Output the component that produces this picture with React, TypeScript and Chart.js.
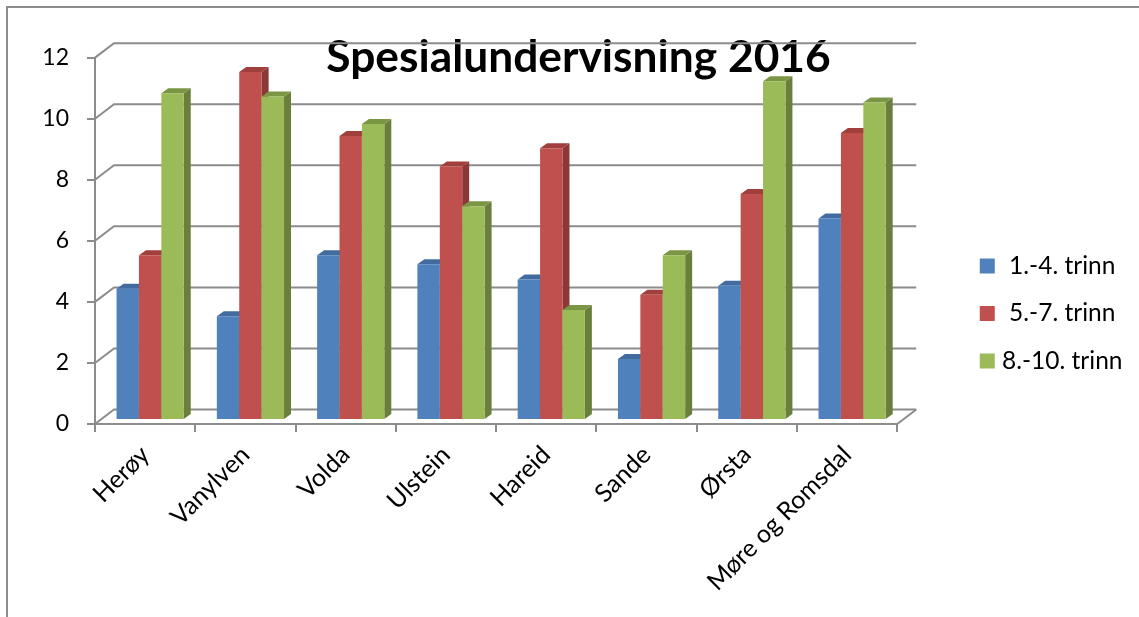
import React, { useEffect, useRef } from "react";
import { Chart, registerables } from "chart.js";

Chart.register(...registerables);

const categories = ["Herøy", "Vanylven", "Volda", "Ulstein", "Hareid", "Sande", "Ørsta", "Møre og Romsdal"];
const seriesNames = ["1.-4. trinn", "5.-7. trinn", "8.-10. trinn"];
const trinn1 = [4.3, 3.4, 5.4, 5.1, 4.6, 2.0, 4.4, 6.6];
const trinn5 = [5.4, 11.4, 9.3, 8.3, 8.9, 4.1, 7.4, 9.4];
const trinn8 = [10.7, 10.6, 9.7, 7.0, 3.6, 5.4, 11.1, 10.4];
const frontColors = ["#4F81BD", "#C0504D", "#9BBB59"];
const sideColors = ["#3A5F8C", "#8C3836", "#6A7F3B"];
const topColors = ["#426C9F", "#A13F3D", "#7A9645"];
const gridColor = "#8C8C8C";
const FONT = "Lato, Carlito, sans-serif";

const wall = { dx: 19, dy: -14.5 };
const barShift = { dx: 5, dy: -4 };
const depth = { dx: 7, dy: -5 };

const threeD = {
  id: "threeD",
  afterLayout(chart: any) {
    const legend = chart.legend;
    legend.top += 5;
    legend.bottom += 5;
    legend.left += 63;
    legend.right += 50;
    chart.titleBlock.left += 43;
    chart.titleBlock.right += 43;
  },
  beforeDatasetsDraw(chart: any) {
    const { ctx, scales } = chart;
    const x = scales.x;
    const y = scales.y;
    ctx.save();
    ctx.strokeStyle = gridColor;
    ctx.lineWidth = 2;
    const right = x.right;
    y.ticks.forEach((t: any) => {
      const py = y.getPixelForValue(t.value);
      ctx.beginPath();
      ctx.moveTo(x.left, py);
      ctx.lineTo(x.left + wall.dx, py + wall.dy);
      ctx.lineTo(right + wall.dx, py + wall.dy);
      ctx.stroke();
    });
    const base = y.getPixelForValue(0);
    ctx.beginPath();
    ctx.moveTo(right, base);
    ctx.lineTo(right + wall.dx, base + wall.dy);
    ctx.stroke();
    ctx.restore();

    ctx.save();
    ctx.translate(barShift.dx, barShift.dy);
    chart.data.datasets.forEach((_: any, i: number) => {
      chart.getDatasetMeta(i).data.forEach((el: any) => {
        const l = el.x - el.width / 2;
        const r = el.x + el.width / 2;
        ctx.fillStyle = sideColors[i];
        ctx.beginPath();
        ctx.moveTo(r, el.y);
        ctx.lineTo(r + depth.dx, el.y + depth.dy);
        ctx.lineTo(r + depth.dx, el.base + depth.dy);
        ctx.lineTo(r, el.base);
        ctx.closePath();
        ctx.fill();
        ctx.fillStyle = topColors[i];
        ctx.beginPath();
        ctx.moveTo(l, el.y);
        ctx.lineTo(l + depth.dx, el.y + depth.dy);
        ctx.lineTo(r + depth.dx, el.y + depth.dy);
        ctx.lineTo(r, el.y);
        ctx.closePath();
        ctx.fill();
        el.draw(ctx);
      });
    });
    ctx.restore();
    return false;
  },
};

export default function App() {
  const ref = useRef<HTMLCanvasElement>(null);
  useEffect(() => {
    const chart = new Chart(ref.current as HTMLCanvasElement, {
      type: "bar",
      data: {
        labels: categories,
        datasets: [trinn1, trinn5, trinn8].map((d, i) => ({
          label: seriesNames[i],
          data: d,
          backgroundColor: frontColors[i],
          borderWidth: 0,
          categoryPercentage: 0.67,
          barPercentage: 1,
        })),
      },
      options: {
        animation: false,
        responsive: false,
        layout: { padding: { left: 0, right: 68, top: 0, bottom: 0 } },
        plugins: {
          tooltip: { enabled: false },
          title: {
            display: true,
            text: "Spesialundervisning 2016",
            color: "#000",
            align: "center",
            font: { family: FONT, size: 44.3, weight: "bold", lineHeight: 1.2 },
            padding: { top: 31.5, bottom: -27 },
          },
          legend: {
            position: "right",
            labels: {
              color: "#000",
              font: { family: FONT, size: 24.5 },
              boxWidth: 8,
              boxHeight: 8,
              padding: 23,
              textAlign: "center",
              generateLabels: (chart: any) =>
                Chart.defaults.plugins.legend.labels.generateLabels(chart).map((item: any) => ({
                  ...item,
                  lineWidth: 7,
                  strokeStyle: item.fillStyle,
                })),
            },
          },
        },
        scales: {
          x: {
            offset: true,
            afterFit: (s: any) => { s.height = 193; },
            grid: { drawOnChartArea: false, drawTicks: true, tickLength: 8, color: gridColor, lineWidth: 2, offset: true },
            border: { color: gridColor, width: 2 },
            ticks: { color: "#000", font: { family: FONT, size: 25 }, minRotation: 45, maxRotation: 45, padding: 8, autoSkip: false },
          },
          y: {
            min: 0,
            max: 12,
            afterFit: (s: any) => { s.width = 95; },
            grid: { drawOnChartArea: false, tickLength: 8, color: gridColor, lineWidth: 2 },
            border: { color: gridColor, width: 2 },
            ticks: { color: "#000", font: { family: FONT, size: 23 }, stepSize: 2, padding: 18 },
          },
        },
      },
      plugins: [threeD],
    } as any);
    return () => chart.destroy();
  }, []);
  return (
    <div style={{ position: "fixed", left: 0, top: 0, width: 1139, height: 617, background: "#fff" }}>
      <canvas ref={ref} width={1139} height={617} style={{ position: "absolute", left: 0, top: 0 }} />
      <div style={{ position: "absolute", left: 6, top: 6, right: 0, bottom: 0, borderLeft: "2px solid #8C8C8C", borderTop: "2px solid #8C8C8C" }} />
    </div>
  );
}
